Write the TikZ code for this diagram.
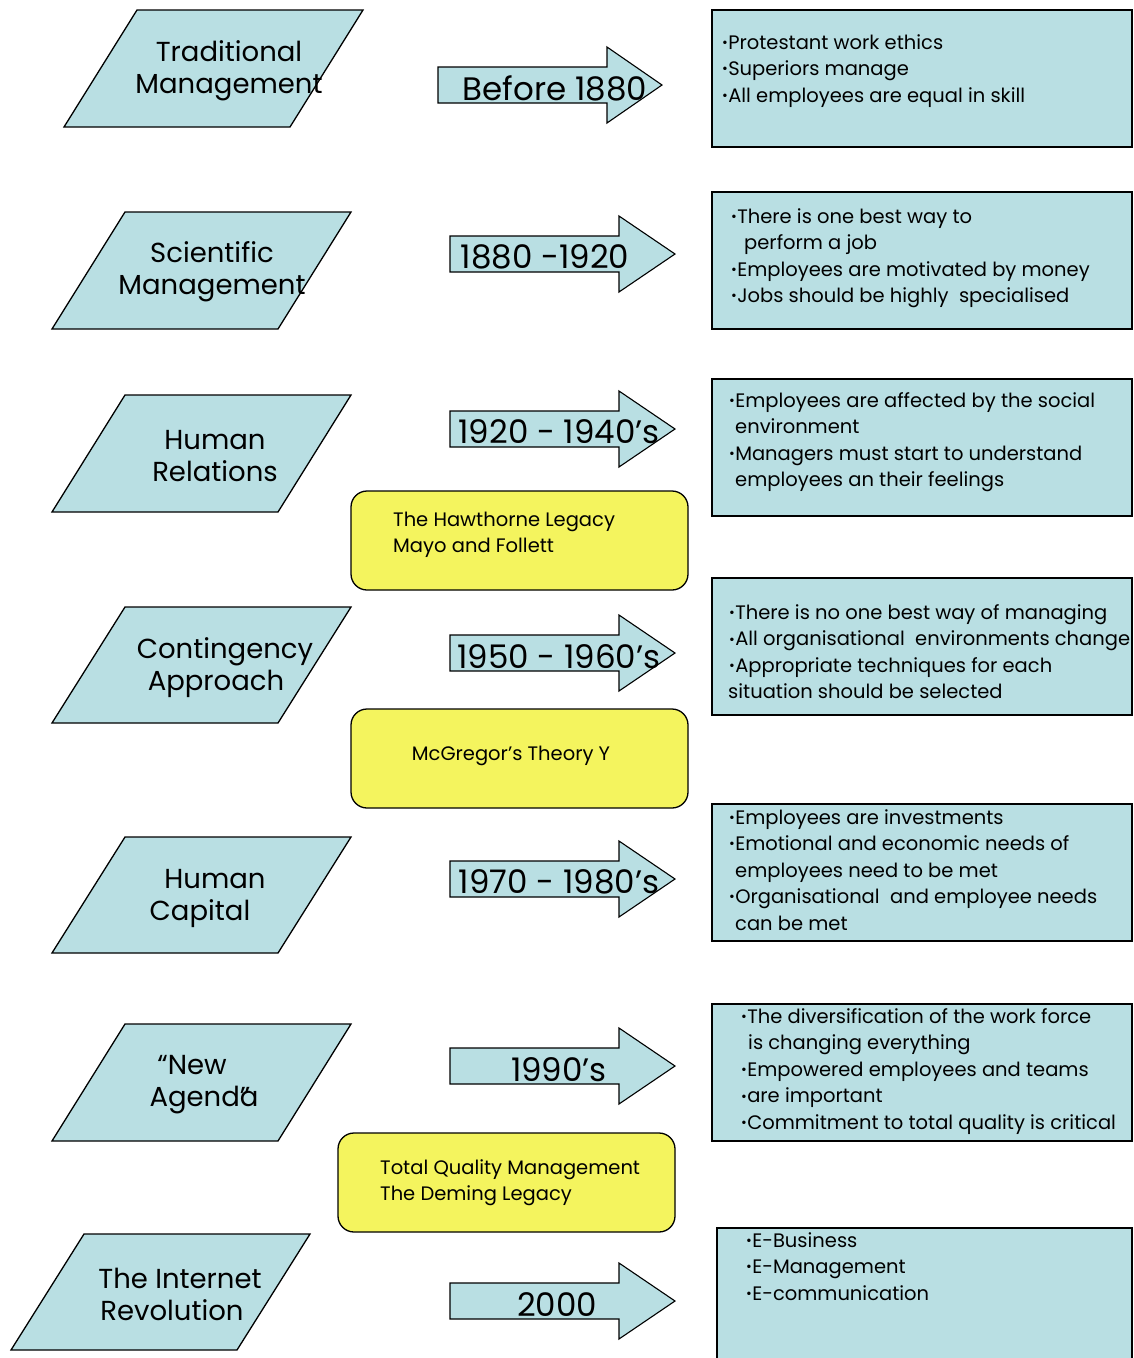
\documentclass[tikz,border=0pt]{standalone}
\usepackage{fontspec}
\setmainfont{Poppins}
\definecolor{tblue}{RGB}{185,223,227}
\definecolor{tyellow}{RGB}{244,244,94}
\tikzset{
  para/.style={draw=black, line width=1.3pt, fill=tblue, line join=miter},
  blockarrow/.style={draw=black, line width=1.1pt, fill=tblue},
  infobox/.style={draw=black, line width=1.3pt, fill=tblue},
  legacy/.style={draw=black, line width=1.3pt, fill=tyellow, rounded corners=16pt},
  paratext/.style={font=\fontsize{27.5}{32}\selectfont, align=center, inner sep=0pt},
  arrowtext/.style={font=\fontsize{32.5}{34}\selectfont, inner sep=0pt},
  listtext/.style={font=\fontsize{19.5}{26.5}\selectfont, align=left, inner sep=0pt, anchor=north west},
  legtext/.style={font=\fontsize{19.5}{26}\selectfont, align=left, inner sep=0pt, anchor=north west},
}
\newcommand\tlb{\raisebox{1.6pt}{\fontsize{14}{14}\selectfont •}\kern0.3pt}
\newcommand\tlpara[3]{\draw[para] (#1,#2) -- (#1+226,#2) -- (#1+153,#3) -- (#1-73,#3) -- cycle;}
\newcommand\tlarrow[4]{\draw[blockarrow] (#1,#4-18) -- (#2,#4-18) -- (#2,#4-38) -- (#3,#4) -- (#2,#4+38) -- (#2,#4+18) -- (#1,#4+18) -- cycle;}
\begin{document}
\begin{tikzpicture}[x=1pt,y=-1pt]
\useasboundingbox (0,0) rectangle (1134,1358);
\fill[white] (0,0) rectangle (1134,1358);

% parallelograms
\tlpara{137}{10}{127}
\tlpara{125}{212}{329}
\tlpara{125}{395}{512}
\tlpara{125}{607}{723}
\tlpara{125}{837}{953}
\tlpara{125}{1024}{1141}
\tlpara{84}{1234}{1350}

\node[paratext] (p1) at (229,71) {Traditional\\Management};
\node[paratext] (p2) at (212,272) {Scientific\\Management};
\node[paratext] (p3) at (215,456) {Human\\Relations};
\node[paratext] (p4) at (225,668) {Contingency\\Approach\hspace*{18pt}};
\node[paratext] (p5) at (215,898) {Human\\Capital\hspace*{30pt}};
\node[paratext] (p6) at (192,1085) {“New\\\hspace*{24pt}Agend\rlap{”}a};
\node[paratext] (p7) at (180,1294) {The Internet\\Revolution\hspace*{16pt}};

% arrows
\tlarrow{438}{607}{662}{85}
\tlarrow{450}{619}{675}{254}
\tlarrow{450}{619}{675}{429}
\tlarrow{450}{619}{675}{653}
\tlarrow{450}{619}{675}{879}
\tlarrow{450}{619}{675}{1066}
\tlarrow{450}{619}{675}{1301}

\node[arrowtext] (a1) at (555,88) {Before 1880};
\node[arrowtext] (a2) at (545,257) {1880 -1920};
\node[arrowtext] (a3) at (559,432) {1920 - 1940's};
\node[arrowtext] (a4) at (559,657) {1950 - 1960's};
\node[arrowtext] (a5) at (559,882) {1970 - 1980's};
\node[arrowtext] (a6) at (559,1070) {1990’s};
\node[arrowtext] (a7) at (557,1305) {2000};

% info boxes
\draw[infobox] (712,10) rectangle (1132,147);
\draw[infobox] (712,192) rectangle (1132,329);
\draw[infobox] (712,379) rectangle (1132,516);
\draw[infobox] (712,578) rectangle (1132,715);
\draw[infobox] (712,804) rectangle (1132,941);
\draw[infobox] (712,1004) rectangle (1132,1141);
\draw[infobox] (717,1228) rectangle (1132,1375);

\node[listtext] (b1) at (722,34) {\tlb Protestant work ethics\\\tlb Superiors manage\\\tlb All employees are equal in skill};
\node[listtext] (b2) at (731,208) {\tlb There is one best way to\\\hspace*{13pt}perform a job\\\tlb Employees are motivated by money\\\tlb Jobs should be highly~ specialised};
\node[listtext] (b3) at (729,392) {\tlb Employees are affected by the social\\\hspace*{6pt}environment\\\tlb Managers must start to understand\\\hspace*{6pt}employees an their feelings};
\node[listtext] (b4) at (729,604) {\tlb There is no one best way of managing\\\tlb All organisational~ environments change\\\tlb Appropriate techniques for each\\\hspace*{-1pt}situation should be selected};
\node[listtext] (b5) at (729,809) {\tlb Employees are investments\\\tlb Emotional and economic needs of\\\hspace*{6pt}employees need to be met\\\tlb Organisational~ and employee needs\\\hspace*{6pt}can be met};
\node[listtext] (b6) at (741,1008) {\tlb The diversification of the work force\\\hspace*{7pt}is changing everything\\\tlb Empowered employees and teams\\\tlb are important\\\tlb Commitment to total quality is critical};
\node[listtext] (b7) at (746,1232) {\tlb E-Business\\\tlb E-Management\\\tlb E-communication};

% legacy boxes
\draw[legacy] (351,491) rectangle (688,590);
\draw[legacy] (351,709) rectangle (688,808);
\draw[legacy] (338,1133) rectangle (675,1232);

\node[legtext] (y1) at (393,512) {The Hawthorne Legacy\\Mayo and Follett};
\node[legtext, anchor=center] (y2) at (511,756) {McGregor’s Theory Y};
\node[legtext] (y3) at (380,1159) {Total Quality Management\\The Deming Legacy};
\end{tikzpicture}
\end{document}
